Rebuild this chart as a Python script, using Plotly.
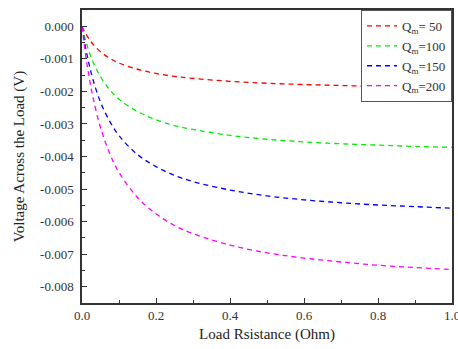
import plotly.graph_objects as go

# Data
load_r = [0, 0.01, 0.02, 0.03, 0.05, 0.075, 0.1, 0.15, 0.2, 0.25, 0.3, 0.4, 0.5, 0.6, 0.7, 0.8, 0.9, 1.0]
v_q50 = [0, -0.000225, -0.000406, -0.000554, -0.000781, -0.000983, -0.00113, -0.00132, -0.00145, -0.00154,
         -0.00160, -0.00169, -0.00175, -0.00179, -0.00182, -0.00185, -0.00186, -0.00188]
v_q100 = [0, -0.000446, -0.000804, -0.00110, -0.00155, -0.00195, -0.00224, -0.00262, -0.00287, -0.00305,
          -0.00317, -0.00335, -0.00347, -0.00355, -0.00361, -0.00365, -0.00369, -0.00372]
v_q150 = [0, -0.000670, -0.00121, -0.00165, -0.00233, -0.00292, -0.00336, -0.00394, -0.00431, -0.00458,
          -0.00477, -0.00503, -0.00521, -0.00533, -0.00542, -0.00549, -0.00554, -0.00559]
v_q200 = [0, -0.000896, -0.00161, -0.00220, -0.00311, -0.00391, -0.00449, -0.00526, -0.00576, -0.00612,
          -0.00637, -0.00672, -0.00696, -0.00712, -0.00724, -0.00734, -0.00741, -0.00747]

series_names = ["Q<sub>m</sub>= 50", "Q<sub>m</sub>=100", "Q<sub>m</sub>=150", "Q<sub>m</sub>=200"]
series_vals = [v_q50, v_q100, v_q150, v_q200]
series_colors = ["#FF0000", "#00EE00", "#0000FF", "#FF00FF"]

x_tickvals = [0.0, 0.2, 0.4, 0.6, 0.8, 1.0]
x_ticktext = ["0.0", "0.2", "0.4", "0.6", "0.8", "1.0"]
y_tickvals = [0.0, -0.001, -0.002, -0.003, -0.004, -0.005, -0.006, -0.007, -0.008]
y_ticktext = ["0.000", "-0.001", "-0.002", "-0.003", "-0.004", "-0.005", "-0.006", "-0.007", "-0.008"]

FONT = "'Liberation Serif', 'Times New Roman', Times, serif"

fig = go.Figure()
for name, vals, col in zip(series_names, series_vals, series_colors):
    fig.add_trace(go.Scatter(
        x=load_r, y=vals, mode="lines", name=name,
        line=dict(color=col, width=1.3, dash="5px,4px", shape="spline", smoothing=1.0),
    ))

axis_common = dict(
    showline=True, linecolor="#333333", linewidth=1.5, mirror=True,
    ticks="inside", ticklen=5, tickwidth=1, tickcolor="#333333",
    showgrid=False, zeroline=False, automargin=False,
    ticklabeloverflow="allow",
    tickfont=dict(family=FONT, size=13, color="#333333"),
)

fig.update_xaxes(
    range=[0, 1.0], tickvals=x_tickvals, ticktext=x_ticktext,
    minor=dict(ticks="inside", ticklen=3, dtick=0.1, tickcolor="#333333"),
    ticklabelstandoff=0,
    title=dict(text="Load Rsistance (Ohm)", font=dict(family=FONT, size=15, color="#222222"), standoff=6),
    **axis_common,
)
fig.update_yaxes(
    range=[-0.0085, 0.0005], tickvals=y_tickvals, ticktext=y_ticktext,
    minor=dict(ticks="inside", ticklen=3, dtick=0.0005, tickcolor="#333333"),
    ticklabelstandoff=4,
    title=dict(text="Voltage Across the Load (V)", font=dict(family=FONT, size=15, color="#222222"), standoff=12),
    **axis_common,
)

fig.update_layout(
    width=458, height=349,
    margin=dict(l=82, r=6, t=10, b=46, autoexpand=False),
    paper_bgcolor="white", plot_bgcolor="white",
    font=dict(family=FONT, color="#333333"),
    showlegend=True,
    legend=dict(
        x=1.0, y=1.0, xanchor="right", yanchor="top",
        bgcolor="white", bordercolor="#555555", borderwidth=1,
        font=dict(family=FONT, size=13, color="#333333"),
        tracegroupgap=0, itemwidth=30,
    ),
)

fig.write_html("out.html", config={"displayModeBar": False},
               post_script="document.body.style.margin='0';")
